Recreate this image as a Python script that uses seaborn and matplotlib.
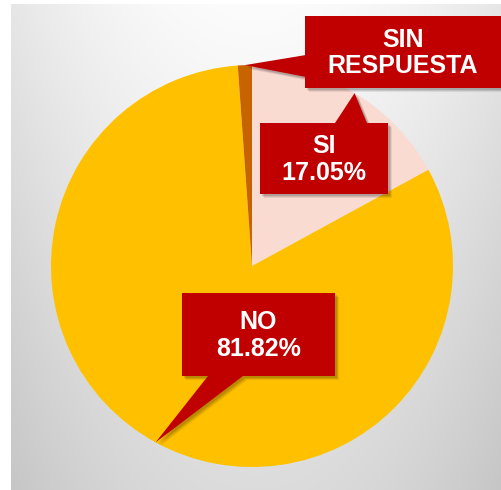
import numpy as np
import matplotlib
matplotlib.use("Agg")
import matplotlib.pyplot as plt
from matplotlib.patches import Rectangle, Polygon
import seaborn as sns

# Survey answers and their shares (%)
categories = ["SI", "NO", "SIN RESPUESTA"]
shares = [17.05, 81.82, 1.13]
show_share = [True, True, False]
slice_colors = ["#FADBD2", "#FFC000", "#C86400"]

sns.set_theme(style="white")
plt.rcParams["font.family"] = ["Liberation Sans", "DejaVu Sans"]

W, H = 502, 490
fig = plt.figure(figsize=(W / 100, H / 100), dpi=100)
ax = fig.add_axes([0, 0, 1, 1])
ax.set_xlim(0, W)
ax.set_ylim(0, H)
ax.axis("off")


def py(y):
    # convert a top-down pixel row into the axes' y coordinate
    return H - y


# soft grey backdrop, brightest at the top centre
x0, x1, y0, y1 = 11, W, 0, H - 4
gx = np.linspace(x0, x1, 300)
gy = np.linspace(y1, y0, 300)
XX, YY = np.meshgrid(gx, gy)
dx = np.abs(XX - 256) / 246
dy = (y1 - YY) / 486
shade = 252 - 22 * dx ** 2 - 32 * dy
shade = np.clip(shade, 0, 255) / 255
ax.imshow(np.dstack([shade, shade, shade]), extent=[x0, x1, y0, y1],
          origin="upper", aspect="auto", zorder=0, interpolation="bilinear")

# pie
cx, cy, r = 252, py(266), 201
wedges, _ = ax.pie(shares, colors=slice_colors, startangle=90,
                   counterclock=False, center=(cx, cy), radius=r,
                   wedgeprops=dict(linewidth=0), frame=False)
for w in wedges:
    w.set_zorder(2)
ax.set_xlim(0, W)
ax.set_ylim(0, H)
ax.set_aspect("equal")

RED = "#C00000"

# callout boxes: (left, top, right, bottom) in pixel rows, pointer base
boxes = {
    "SI": dict(box=(260, 123, 388, 194), base=((335, 123), (367, 123))),
    "NO": dict(box=(182, 293, 335, 376), base=((208, 376), (243, 376))),
    "SIN RESPUESTA": dict(box=(305, 16, 501, 88), base=((306, 55), (306, 77))),
}

for wdg, cat, val, show in zip(wedges, categories, shares, show_share):
    mid = np.deg2rad((wdg.theta1 + wdg.theta2) / 2)
    tip = (cx + r * np.cos(mid), cy + r * np.sin(mid))
    spec = boxes[cat]
    l, t, rr, b = spec["box"]
    (bx1, by1), (bx2, by2) = spec["base"]
    pts = [(bx1, py(by1)), (bx2, py(by2)), tip]
    # drop shadow
    for k, a in [(4, 0.08), (3, 0.10), (2, 0.12)]:
        ax.add_patch(Rectangle((l + k, py(b) - k), rr - l, b - t,
                               facecolor="black", alpha=a, lw=0, zorder=3))
        ax.add_patch(Polygon([(p[0] + k, p[1] - k) for p in pts],
                             facecolor="black", alpha=a, lw=0, zorder=3))
    ax.add_patch(Rectangle((l, py(b)), rr - l, b - t,
                           facecolor=RED, lw=0, zorder=4))
    ax.add_patch(Polygon(pts, facecolor=RED, lw=0, zorder=4))
    txt = cat.replace(" ", "\n")
    if show:
        txt = f"{cat}\n{val:.2f}%"
    ax.text((l + rr) / 2, py((t + b) / 2) - 1, txt, ha="center", va="center",
            color="white", fontsize=18, fontweight="bold", linespacing=1.15,
            zorder=5)

fig.savefig("out.png", dpi=100, facecolor="white")
